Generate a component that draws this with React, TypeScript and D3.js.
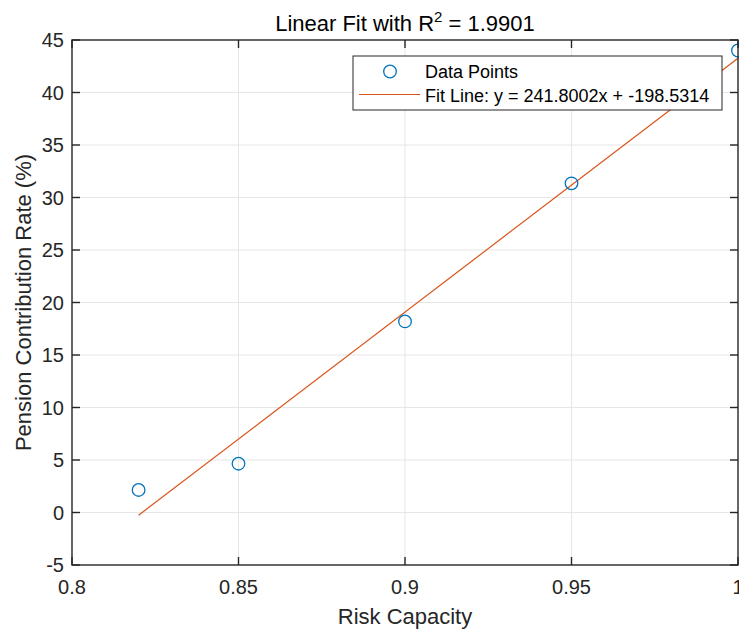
import React, { useRef, useEffect } from 'react';
import { select, scaleLinear, range, line } from 'd3';

// data
const riskCapacity = [0.82, 0.85, 0.9, 0.95, 1.0];
const contributionRate = [2.15, 4.65, 18.2, 31.35, 44.0];
const fitSlope = 241.8002;
const fitIntercept = -198.5314;
const rSquared = 1.9901;
const xTicks = [0.8, 0.85, 0.9, 0.95, 1];
const yTicks = range(-5, 46, 5);

const FONT = "'Liberation Sans', Arial, Helvetica, sans-serif";
const AXIS_COLOR = '#262626';
const BLUE = '#0072BD';
const ORANGE = '#D95319';

function FitChart() {
  const svgRef = useRef(null);

  useEffect(() => {
    document.body.style.margin = '0';
    const svg = select(svgRef.current);
    svg.selectAll('*').remove();

    const left = 72, right = 738, top = 40, bottom = 565;
    const x = scaleLinear().domain([0.8, 1]).range([left, right]);
    const y = scaleLinear().domain([-5, 45]).range([bottom, top]);

    // grid
    const grid = svg.append('g').attr('stroke', '#e6e6e6').attr('stroke-width', 1);
    grid.selectAll('.gx')
      .data(xTicks.slice(1, -1))
      .join('line')
      .attr('x1', d => x(d)).attr('x2', d => x(d))
      .attr('y1', top).attr('y2', bottom);
    grid.selectAll('.gy')
      .data(yTicks.slice(1, -1))
      .join('line')
      .attr('x1', left).attr('x2', right)
      .attr('y1', d => y(d)).attr('y2', d => y(d));

    // fit line
    const xmin = Math.min(...riskCapacity);
    const xmax = Math.max(...riskCapacity);
    const fitPts = [xmin, xmax].map(v => [v, fitSlope * v + fitIntercept]);
    svg.append('path')
      .attr('d', line().x(d => x(d[0])).y(d => y(d[1]))(fitPts))
      .attr('fill', 'none')
      .attr('stroke', ORANGE)
      .attr('stroke-width', 1.2);

    // data points
    svg.selectAll('.pt')
      .data(riskCapacity)
      .join('circle')
      .attr('class', 'pt')
      .attr('cx', d => x(d))
      .attr('cy', (d, i) => y(contributionRate[i]))
      .attr('r', 6.3)
      .attr('fill', 'none')
      .attr('stroke', BLUE)
      .attr('stroke-width', 1.3);

    // box + ticks
    const ax = svg.append('g').attr('stroke', AXIS_COLOR).attr('stroke-width', 1.4);
    ax.append('rect')
      .attr('x', left).attr('y', top)
      .attr('width', right - left).attr('height', bottom - top)
      .attr('fill', 'none');
    const tl = 8;
    xTicks.forEach(t => {
      ax.append('line').attr('x1', x(t)).attr('x2', x(t)).attr('y1', bottom).attr('y2', bottom - tl);
      ax.append('line').attr('x1', x(t)).attr('x2', x(t)).attr('y1', top).attr('y2', top + tl);
    });
    yTicks.forEach(t => {
      ax.append('line').attr('x1', left).attr('x2', left + tl).attr('y1', y(t)).attr('y2', y(t));
      ax.append('line').attr('x1', right).attr('x2', right - tl).attr('y1', y(t)).attr('y2', y(t));
    });

    // tick labels
    svg.selectAll('.xl')
      .data(xTicks)
      .join('text')
      .attr('x', d => x(d))
      .attr('y', 594)
      .attr('text-anchor', 'middle')
      .attr('font-family', FONT)
      .attr('font-size', 20)
      .attr('fill', AXIS_COLOR)
      .text(d => String(d));
    svg.selectAll('.yl')
      .data(yTicks)
      .join('text')
      .attr('x', left - 8)
      .attr('y', d => y(d))
      .attr('dy', '0.35em')
      .attr('text-anchor', 'end')
      .attr('font-family', FONT)
      .attr('font-size', 20)
      .attr('fill', AXIS_COLOR)
      .text(d => String(d));

    // axis labels
    svg.append('text')
      .attr('x', (left + right) / 2).attr('y', 624)
      .attr('text-anchor', 'middle')
      .attr('font-family', FONT).attr('font-size', 22)
      .attr('fill', AXIS_COLOR)
      .text('Risk Capacity');
    svg.append('text')
      .attr('transform', `translate(31,${(top + bottom) / 2}) rotate(-90)`)
      .attr('text-anchor', 'middle')
      .attr('font-family', FONT).attr('font-size', 22)
      .attr('fill', AXIS_COLOR)
      .text('Pension Contribution Rate (%)');

    // title
    const title = svg.append('text')
      .attr('x', (left + right) / 2).attr('y', 31)
      .attr('text-anchor', 'middle')
      .attr('font-family', FONT).attr('font-size', 22)
      .attr('fill', '#000');
    title.append('tspan').text('Linear Fit with R');
    title.append('tspan').attr('dy', -9).attr('font-size', 15).text('2');
    title.append('tspan').attr('dy', 9).text(` = ${rSquared.toFixed(4)}`);

    // legend
    const lg = svg.append('g');
    lg.append('rect')
      .attr('x', 353).attr('y', 56)
      .attr('width', 369).attr('height', 54)
      .attr('fill', '#fff')
      .attr('stroke', AXIS_COLOR)
      .attr('stroke-width', 1);
    lg.append('circle')
      .attr('cx', 390).attr('cy', 71.5).attr('r', 6.3)
      .attr('fill', 'none').attr('stroke', BLUE).attr('stroke-width', 1.3);
    lg.append('line')
      .attr('x1', 359).attr('x2', 420).attr('y1', 94.5).attr('y2', 94.5)
      .attr('stroke', ORANGE).attr('stroke-width', 1.2);
    const legendLabels = [
      'Data Points',
      `Fit Line: y = ${fitSlope.toFixed(4)}x + ${fitIntercept.toFixed(4)}`,
    ];
    lg.selectAll('.lt')
      .data(legendLabels)
      .join('text')
      .attr('x', 425)
      .attr('y', (d, i) => 77.5 + i * 24.5)
      .attr('font-family', FONT)
      .attr('font-size', 18)
      .attr('fill', '#000')
      .text(d => d);
  }, []);

  return <svg ref={svgRef} width={739} height={630} style={{ display: 'block', background: '#fff' }} />;
}

export default function App() {
  return <FitChart />;
}
